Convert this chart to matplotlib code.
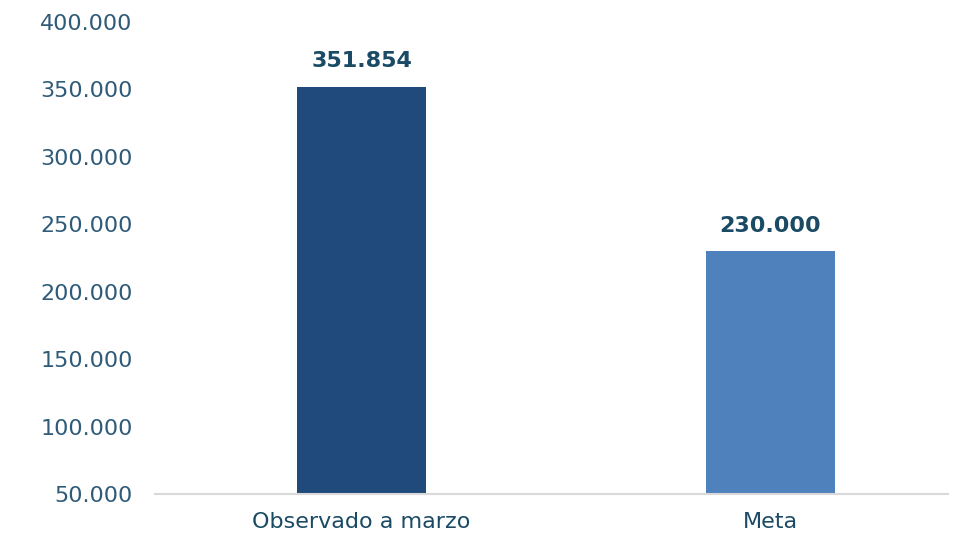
import matplotlib
matplotlib.use("Agg")
import matplotlib.pyplot as plt
from matplotlib.ticker import FuncFormatter

categories = ["Observado a marzo", "Meta"]
values = [351854, 230000]
bar_colors = ["#204a7b", "#4f81bd"]
yticks = [50000, 100000, 150000, 200000, 250000, 300000, 350000, 400000]

def fmt(v, pos=None):
    return f"{int(v):,}".replace(",", ".")

fig = plt.figure(figsize=(9.62, 5.33), dpi=100)
ax = fig.add_axes([155/962, (533-494)/533, (948-155)/962, (494-22)/533])

x = list(range(len(categories)))
ax.bar(x, values, width=0.315, color=bar_colors, zorder=2)
for xi, v in zip(x, values):
    ax.text(xi, v + 11500, fmt(v), ha="center", va="bottom",
            fontsize=16, color="#1a4a64", fontweight="bold", family="DejaVu Sans")

ax.set_xlim(-0.505, 1.434)
ax.set_ylim(50000, 400000)
ax.set_yticks(yticks)
ax.yaxis.set_major_formatter(FuncFormatter(fmt))
ax.set_xticks(x)
ax.set_xticklabels(categories)
for s in ["top", "right", "left"]:
    ax.spines[s].set_visible(False)
ax.spines["bottom"].set_color("#d9d9d9")
ax.spines["bottom"].set_linewidth(1.5)
ax.tick_params(axis="y", length=0, labelsize=16, labelcolor="#2f5b78", pad=16)
ax.tick_params(axis="x", length=0, labelsize=16, labelcolor="#1a4a64", pad=13)

fig.savefig("out.png", dpi=100)
